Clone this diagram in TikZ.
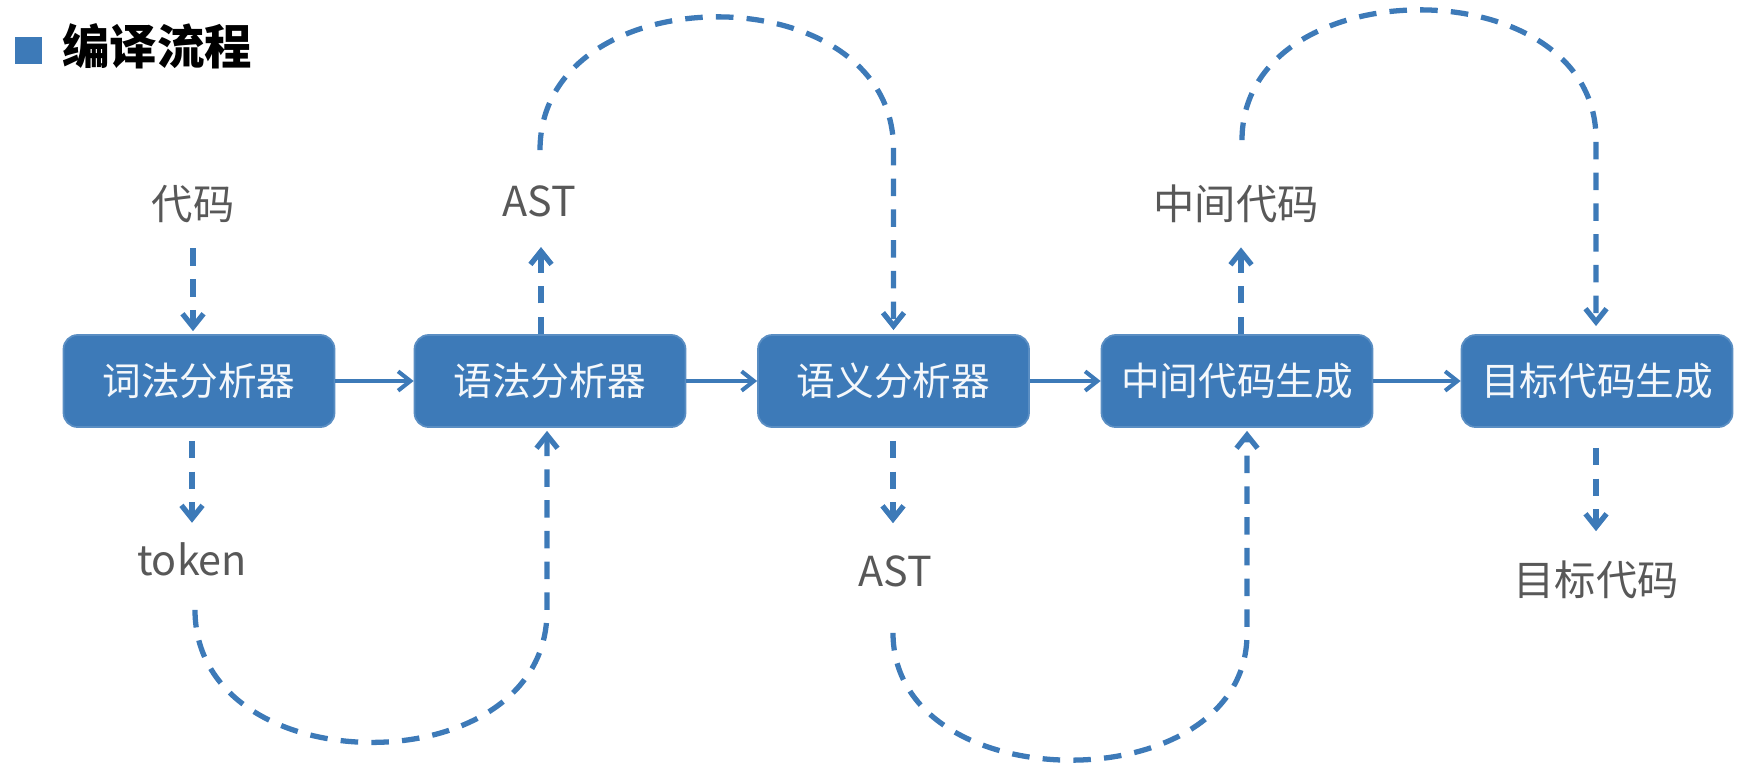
\documentclass[tikz,border=0pt]{standalone}
\usepackage{fontspec}
\setmainfont{Noto Sans CJK SC}
\usetikzlibrary{arrows.meta,calc}
\definecolor{flowblue}{RGB}{61,122,184}
\definecolor{labelgray}{RGB}{88,88,88}
\begin{document}
\begin{tikzpicture}[x=0.02cm,y=-0.02cm,
	stage/.style={rectangle,rounded corners=8pt,fill=flowblue,draw=flowblue!85!white,line width=1pt,
		minimum width=5.42cm,minimum height=1.84cm,inner sep=0pt,text=white!95!flowblue,font=\fontsize{22}{26}\selectfont},
	data/.style={inner sep=0pt,text height=18.7pt,text depth=1.3pt,text=labelgray,font=\fontsize{23.5}{28}\selectfont},
	flow/.style={-{Straight Barb[length=7pt,width=11pt]},line width=2.3pt,draw=flowblue},
	feed/.style={-{Straight Barb[length=7.5pt,width=12pt]},draw=flowblue,line width=3pt,dash pattern=on 10pt off 7.5pt}]
	\useasboundingbox (0,0) rectangle (1750,772);
%	% Title
	\node[fill=flowblue,minimum size=27*0.02cm,inner sep=0pt] (bullet) at (28.5,50) {};
	\node[anchor=west,inner sep=0pt,text height=20pt,text depth=3pt,font=\fontsize{27}{32}\selectfont\bfseries] (title) at (62,50) {编译流程};
%	% Stages
	\node[stage] (lex) at (199,381) {词法分析器};
	\node[stage] (parse) at (550,381) {语法分析器};
	\node[stage] (sema) at (893.5,381) {语义分析器};
	\node[stage] (gen) at (1237,381) {中间代码生成};
	\node[stage] (target) at (1597,381) {目标代码生成};
%	% Inputs and outputs
	\node[data] (code) at (193,204) {代码};
	\node[data] (token) at (192,560) {token};
	\node[data] (astup) at (539,201) {AST};
	\node[data] (astdown) at (895,571) {AST};
	\node[data] (midcode) at (1236,204) {中间代码};
	\node[data] (objcode) at (1596,580) {目标代码};
%	% Main flow
	\draw[flow] (lex.east) -- (parse.west);
	\draw[flow] (parse.east) -- (sema.west);
	\draw[flow] (sema.east) -- (gen.west);
	\draw[flow] (gen.east) -- (target.west);
%	% Short dashed links
	\draw[feed,shorten <=15pt,shorten >=1.7pt] (code.south) -- (code.south |- lex.north);
	\draw[feed,shorten <=7.4pt,shorten >=11pt] (token.north |- lex.south) -- (token.north);
	\draw[feed,shorten >=16pt] ($(astup.south |- parse.north)+(2,0)$) -- ($(astup.south)+(2,0)$);
	\draw[feed,shorten <=7.4pt,shorten >=17pt] ($(sema.south)+(-0.5,0)$) -- ($(astdown.north)+(-2,0)$);
	\draw[feed,shorten >=14.5pt] ($(midcode.south |- gen.north)+(5,0)$) -- ($(midcode.south)+(5,0)$);
	\draw[feed,shorten <=11.4pt,shorten >=17.6pt] ($(objcode.north |- target.south)$) -- (objcode.north);
%	% Loops back into the next stage
	\draw[feed,shorten >=1.7pt] ($(token.south)+(3,32)$) .. controls +(0,176) and +(0,176) .. ($(parse.south)+(-3,183)$) -- ($(parse.south)+(-3,0)$);
	\draw[feed,shorten >=2.3pt] ($(astup.north)+(1,-33)$) .. controls +(0,-177) and +(0,-177) .. ($(sema.north)+(0,-185)$) -- (sema.north);
	\draw[feed,shorten >=1.7pt] ($(astdown.south)+(-2,44)$) .. controls +(0,169) and +(0,169) .. ($(gen.south)+(10,206)$) -- ($(gen.south)+(10,0)$);
	\draw[feed,shorten >=4.6pt] ($(midcode.north)+(6,-46)$) .. controls +(0,-173) and +(0,-173) .. ($(target.north)+(-1,-195)$) -- ($(target.north)+(-1,0)$);
\end{tikzpicture}
\end{document}
